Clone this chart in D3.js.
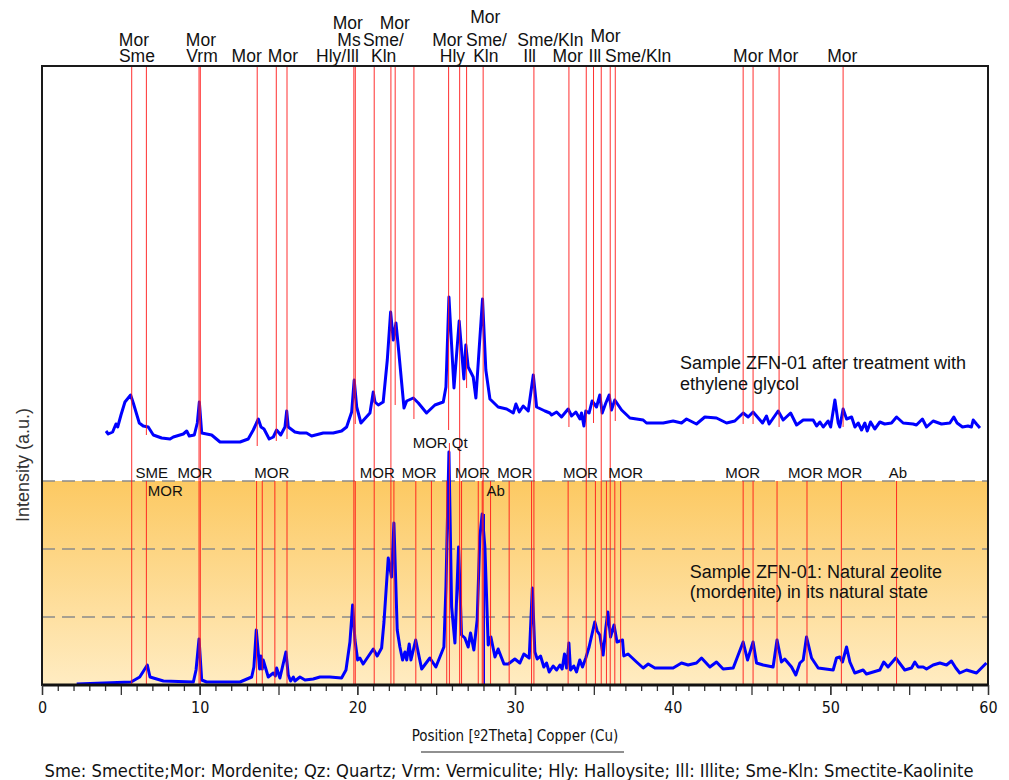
<!DOCTYPE html>
<html><head><meta charset="utf-8">
<script src="https://cdn.jsdelivr.net/npm/d3@7"></script>
<style>body{margin:0;background:#fff} svg{display:block}</style>
</head><body>
<svg id="chart" width="1009" height="780"></svg>
<script>
// ---------- DATA ----------
// Natural sample pattern: [2theta, intensity (a.u.)]
const naturalPattern = [[2.2,1],[5.65,3],[6.2,8],[6.68,20],[6.85,8],[7.7,4],[9.6,3],[9.77,15],[9.96,46],[10.13,5],[10.44,3],[12.56,3],[13.3,8],[13.44,18],[13.59,55],[13.74,28],[13.8,16],[13.89,29],[13.97,16],[14.03,25],[14.35,8],[14.67,12],[14.8,9],[14.88,17],[15.09,7],[15.47,33],[15.62,10],[15.77,4],[15.94,8],[16.04,4],[16.36,8],[16.68,5],[17.2,6],[17.63,8],[18.26,8],[19.0,7],[19.28,15],[19.53,43],[19.7,80],[19.85,45],[20.02,25],[20.16,27],[20.37,21],[21.01,36],[21.26,29],[21.54,37],[21.69,63],[21.96,127],[22.17,108],[22.32,162],[22.53,55],[22.7,38],[22.87,25],[23.02,33],[23.13,25],[23.29,41],[23.4,25],[23.7,45],[24.08,16],[24.6,27],[24.98,18],[25.49,38],[25.62,98],[25.81,233],[25.98,78],[26.19,42],[26.42,138],[26.61,50],[26.82,47],[27.03,38],[27.18,52],[27.39,35],[27.6,65],[27.77,148],[27.92,171],[28.09,138],[28.3,40],[28.47,48],[28.73,28],[28.93,36],[29.3,21],[29.57,21],[29.99,26],[30.31,22],[30.56,31],[30.9,27],[31.1,97],[31.26,33],[31.41,26],[31.62,29],[31.83,18],[32.0,22],[32.17,13],[32.42,19],[32.64,15],[32.85,20],[32.99,16],[33.14,31],[33.27,17],[33.42,42],[33.52,15],[33.73,19],[33.9,13],[34.11,25],[34.28,18],[34.49,27],[34.7,38],[35.06,63],[35.21,54],[35.38,50],[35.59,30],[35.76,57],[35.89,73],[36.06,48],[36.28,60],[36.47,43],[36.82,45],[36.9,29],[37.17,31],[37.71,23],[38.13,17],[38.45,21],[38.87,17],[40.03,17],[40.56,22],[40.98,20],[41.51,22],[41.83,27],[42.36,18],[42.78,23],[43.2,16],[43.84,17],[44.47,43],[44.75,25],[45.1,43],[45.32,22],[45.74,20],[46.37,18],[46.62,45],[46.9,23],[47.11,26],[47.54,18],[47.81,10],[48.07,22],[48.28,25],[48.49,48],[48.81,27],[49.23,17],[50.18,15],[50.39,27],[50.6,28],[50.77,23],[51.03,38],[51.24,23],[51.55,12],[52.08,15],[52.29,11],[53.14,15],[53.39,23],[53.66,18],[54.15,27],[54.72,15],[55.15,17],[55.36,23],[55.57,18],[55.89,18],[56.1,16],[56.52,20],[56.95,22],[57.37,20],[57.68,24],[57.96,17],[58.21,12],[58.64,15],[59.27,12],[59.9,22]];

// Ethylene glycol treated pattern: [2theta, intensity (a.u.)], drawn with an offset
const glycolPattern = [[4.06,14],[4.2,11],[4.48,13],[4.69,21],[4.8,18],[5.01,30],[5.26,43],[5.62,50],[5.79,42],[6.17,22],[6.42,19],[6.74,18],[7.06,10],[7.59,7],[8.12,6],[8.33,8],[8.96,11],[9.18,14],[9.34,9],[9.66,10],[9.85,22],[9.98,43],[10.13,12],[10.44,11],[10.76,10],[11.29,3],[12.56,3],[13.08,6],[13.4,15],[13.72,26],[13.89,18],[14.08,16],[14.41,6],[14.67,8],[14.88,15],[15.14,10],[15.41,18],[15.52,34],[15.62,18],[16.04,13],[16.36,12],[16.78,12],[17.1,9],[17.84,12],[18.47,12],[19.0,14],[19.32,18],[19.64,33],[19.8,65],[19.96,38],[20.23,22],[20.8,32],[21.01,53],[21.12,43],[21.33,40],[21.64,43],[21.9,85],[22.11,133],[22.28,105],[22.45,122],[22.6,98],[22.96,37],[23.13,44],[23.55,47],[23.87,42],[24.39,32],[24.92,40],[25.45,43],[25.62,58],[25.81,148],[26.13,57],[26.46,124],[26.76,66],[26.88,100],[27.03,78],[27.35,68],[27.52,47],[27.73,97],[27.94,146],[28.15,75],[28.41,46],[28.93,38],[29.47,36],[29.89,32],[30.06,41],[30.27,33],[30.52,39],[30.84,34],[31.16,70],[31.37,38],[31.9,34],[32.21,32],[32.32,30],[32.64,33],[32.95,28],[33.37,36],[33.59,29],[33.86,33],[34.12,26],[34.22,32],[34.37,19],[34.49,34],[34.7,32],[34.89,44],[35.17,38],[35.38,50],[35.53,32],[35.76,42],[35.97,50],[36.12,35],[36.33,45],[36.76,35],[37.29,27],[38.13,25],[38.34,22],[39.4,22],[40.03,24],[40.56,22],[40.88,26],[41.51,21],[42.04,28],[42.78,27],[43.42,22],[43.94,24],[44.47,32],[44.79,28],[45.1,33],[45.7,22],[45.95,29],[46.12,21],[46.69,34],[47.01,25],[47.48,32],[47.86,20],[48.28,25],[48.91,25],[49.13,19],[49.34,23],[49.55,18],[49.86,24],[50.02,18],[50.29,45],[50.5,22],[50.6,18],[50.81,36],[51.03,26],[51.35,28],[51.56,18],[51.77,22],[51.98,15],[52.19,22],[52.34,14],[52.55,23],[52.82,16],[53.14,23],[53.45,21],[53.88,22],[54.2,28],[54.62,22],[55.25,21],[55.46,20],[55.84,26],[56.1,18],[56.52,24],[57.05,21],[57.58,22],[57.83,28],[58.04,22],[58.38,18],[58.73,19],[58.95,18],[59.06,25],[59.27,21],[59.49,17]];
const glycolOffset = 240;

// Reference lines for the glycol pattern: [2theta, lower end intensity] (they start at the top)
const glycolRefLines = [[5.69,0],[6.62,250],[9.96,0],[10.04,0],[13.65,239],[14.86,244],[15.54,246],[19.78,0],[19.87,261],[21.07,0],[22.13,0],[22.4,280],[23.59,266],[25.79,255],[26.49,0],[26.93,297],[27.98,0],[31.2,0],[33.42,258],[34.52,0],[34.98,262],[35.47,0],[36.04,0],[36.36,264],[44.47,261],[45.1,261],[46.75,258],[50.81,258]];
// Reference lines for the natural pattern: [2theta, upper end intensity] (they start at zero)
const naturalRefLines = [[6.62,204],[13.61,204],[13.97,204],[14.77,204],[15.54,204],[19.87,204],[22.32,204],[23.71,204],[24.7,204],[25.67,204],[25.84,242],[26.61,204],[27.67,204],[27.92,204],[28.45,204],[29.63,204],[31.05,204],[33.37,204],[35.1,204],[35.8,204],[36.33,204],[36.7,204],[44.47,204],[45.1,204],[46.62,204],[48.52,204],[50.7,204],[54.2,204]];
const quartzStick = [[28.05,171]];

// Phase labels: [text, 2theta, stacking row]
const glycolLabels = [["Mor",5.83,1],["Sme",6.02,0],["Mor",10.08,1],["Vrm",10.15,0],["Mor",12.98,0],["Mor",15.28,0],["Mor",19.4,2],["Ms",19.47,1],["Hly/Ill",18.74,0],["Mor",22.38,2],["Sme/",21.65,1],["Kln",21.67,0],["Mor",28.12,2.35],["Mor",25.71,1],["Hly",26.03,0],["Sme/",28.19,1],["Kln",28.15,0],["Sme/Kln",32.24,1],["Ill",30.93,0],["Mor",33.34,0],["Mor",35.74,1.2],["Ill",35.07,0],["Sme/Kln",37.81,0],["Mor",44.79,0],["Mor",47.01,0],["Mor",50.76,0]];
const naturalLabels = [["SME",6.96,0],["MOR",9.70,0],["MOR",7.82,-1],["MOR",14.57,0],["MOR",21.27,0],["MOR",23.92,0],["MOR",27.3,0],["MOR",29.99,0],["Ab",28.78,-1],["MOR",34.15,0],["MOR",37.02,0],["MOR",44.44,0],["MOR",48.43,0],["MOR",50.92,0],["Ab",54.28,0],["MOR",24.62,1.67],["Qt",26.49,1.67]];

// Sample captions: [text, 2theta, intensity]
const sampleCaptions = [["Sample ZFN-01 after treatment with",40.46,316],["ethylene glycol",40.46,295],["Sample ZFN-01: Natural zeolite",41.09,107],["(mordenite) in its natural state",41.09,87]];

const gridValues = [68,136,204];
const bandTop = 204;
const xLabelTicks = [0,10,20,30,40,50,60];
const xTitle = "Position [\u00BA2Theta] Copper (Cu)";
const yTitle = "Intensity (a.u.)";
const footer = "Sme: Smectite;Mor: Mordenite; Qz: Quartz; Vrm: Vermiculite; Hly: Halloysite; Ill: Illite; Sme-Kln: Smectite-Kaolinite";

// ---------- CHART ----------
const svg = d3.select("#chart");
const L = 42, R = 988, T = 66, B = 685;
const x = d3.scaleLinear().domain([0,60]).range([L,R]);
const y = d3.scaleLinear().domain([0,619]).range([B,T]);
const sans = "'Liberation Sans', Arial, Helvetica, sans-serif";
const narrow = "'Liberation Sans Narrow', 'Arial Narrow', 'DejaVu Sans Condensed', sans-serif";

const defs = svg.append("defs");
const grad = defs.append("linearGradient").attr("id","band").attr("x1",0).attr("y1",0).attr("x2",0).attr("y2",1);
grad.append("stop").attr("offset","0%").attr("stop-color","#fcc962");
grad.append("stop").attr("offset","100%").attr("stop-color","#ffecc2");

svg.append("rect").attr("x",x(0)).attr("y",y(bandTop)).attr("width",x(60)-x(0)).attr("height",y(0)-y(bandTop)).attr("fill","url(#band)");

svg.append("g").selectAll("line").data(gridValues).join("line")
  .attr("x1",x(0)).attr("x2",x(60)).attr("y1",d=>y(d)).attr("y2",d=>y(d))
  .attr("stroke","#8a8a8a").attr("stroke-width",1.5).attr("stroke-dasharray","13,7");

const line = d3.line().x(d=>x(d[0])).y(d=>y(d[1]));
svg.append("path").datum(naturalPattern).attr("d",line).attr("fill","none").attr("stroke","#0000ff").attr("stroke-width",3).attr("stroke-linejoin","round");
svg.append("path").datum(glycolPattern.map(d=>[d[0],d[1]+glycolOffset])).attr("d",line).attr("fill","none").attr("stroke","#0000ff").attr("stroke-width",3).attr("stroke-linejoin","round");

svg.append("g").selectAll("line").data(quartzStick).join("line")
  .attr("x1",d=>x(d[0])).attr("x2",d=>x(d[0])).attr("y1",y(0)).attr("y2",d=>y(d[1]))
  .attr("stroke","#0000ff").attr("stroke-width",1.5);

svg.append("g").selectAll("line").data(glycolRefLines).join("line")
  .attr("x1",d=>x(d[0])).attr("x2",d=>x(d[0])).attr("y1",y(619)).attr("y2",d=>y(d[1]))
  .attr("stroke","#ff1a1a").attr("stroke-width",1).attr("opacity",0.9);
svg.append("g").selectAll("line").data(naturalRefLines).join("line")
  .attr("x1",d=>x(d[0])).attr("x2",d=>x(d[0])).attr("y1",y(0)).attr("y2",d=>y(d[1]))
  .attr("stroke","#ff1a1a").attr("stroke-width",1).attr("opacity",0.9);

// frame
svg.append("rect").attr("x",L).attr("y",T).attr("width",R-L).attr("height",B-T)
  .attr("fill","none").attr("stroke","#1a1a1a").attr("stroke-width",2);

// x axis
const minor = svg.append("g").attr("transform",`translate(0,${B})`)
  .call(d3.axisBottom(x).tickValues(d3.range(0,61,1).filter(v=>v%5!==0)).tickSize(6).tickFormat(""));
minor.select(".domain").remove();
const mid = svg.append("g").attr("transform",`translate(0,${B})`)
  .call(d3.axisBottom(x).tickValues(d3.range(0,61,5)).tickSize(10).tickFormat(""));
mid.select(".domain").remove();
const ax = svg.append("g").attr("transform",`translate(0,${B})`)
  .call(d3.axisBottom(x).tickValues(xLabelTicks).tickSize(10).tickFormat(d3.format("d")));
ax.select(".domain").attr("stroke","#111").attr("stroke-width",3).attr("d",`M${L},0H${R}`);
svg.selectAll(".tick line").attr("stroke","#333").attr("stroke-width",1.3);
ax.selectAll("text").attr("y",17).attr("font-family",narrow).attr("font-size",16).attr("fill","#111");

// titles
svg.append("text").attr("x",515).attr("y",741).attr("text-anchor","middle")
  .attr("font-family",narrow).attr("font-size",15).attr("fill","#111").text(xTitle);
svg.append("line").attr("x1",421).attr("x2",624).attr("y1",752).attr("y2",752).attr("stroke","#222").attr("stroke-width",1.2);
svg.append("text").attr("x",509).attr("y",777).attr("text-anchor","middle")
  .attr("font-family",narrow).attr("font-size",17).attr("fill","#111")
  .attr("textLength",929).attr("lengthAdjust","spacingAndGlyphs").text(footer);
svg.append("text").attr("transform","translate(29,465) rotate(-90)").attr("text-anchor","middle")
  .attr("font-family",sans).attr("font-size",18).attr("fill","#333").text(yTitle);

// labels
svg.append("g").selectAll("text").data(glycolLabels).join("text")
  .attr("x",d=>x(d[1])).attr("y",d=>62-d[2]*16.5).attr("text-anchor","middle")
  .attr("font-family",sans).attr("font-size",17.5).attr("fill","#111").text(d=>d[0]);
svg.append("g").selectAll("text").data(naturalLabels).join("text")
  .attr("x",d=>x(d[1])).attr("y",d=>478-d[2]*18).attr("text-anchor","middle")
  .attr("font-family",sans).attr("font-size",15).attr("fill","#111").text(d=>d[0]);
svg.append("g").selectAll("text").data(sampleCaptions).join("text")
  .attr("x",d=>x(d[1])).attr("y",d=>y(d[2])).attr("font-family",sans).attr("font-size",18).attr("fill","#111").text(d=>d[0]);
</script>
</body></html>
